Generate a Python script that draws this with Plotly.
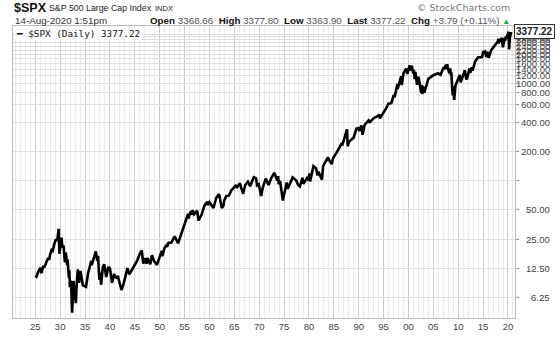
import math
import plotly.graph_objects as go

# ---------------- data ----------------
dates = [
    "1925-01-02","1925-04-01","1925-07-01","1925-11-02","1926-01-04","1926-03-30","1926-06-01","1926-08-14","1926-10-20",
    "1927-01-03","1927-05-02","1927-08-01","1927-10-20","1928-01-03","1928-05-14","1928-06-12","1928-11-20","1928-12-31",
    "1929-03-01","1929-05-27","1929-09-16","1929-11-13","1930-01-15","1930-04-10","1930-06-20","1930-09-10","1930-12-16",
    "1931-02-24","1931-06-02","1931-07-01","1931-10-05","1931-11-09","1931-12-17","1932-03-08","1932-06-01","1932-09-07",
    "1932-12-03","1933-02-27","1933-04-20","1933-07-18","1933-10-21","1934-02-05","1934-07-26","1935-03-14","1935-08-15",
    "1935-12-16","1936-04-06","1936-05-01","1936-11-10","1937-03-06","1937-06-14","1937-08-14","1937-11-19","1938-01-12",
    "1938-03-31","1938-07-25","1938-11-09","1939-04-08","1939-09-12","1940-01-03","1940-06-10","1940-11-09","1941-01-10",
    "1941-06-01","1941-08-01","1942-04-28","1942-09-15","1942-12-28","1943-07-14","1943-11-29","1944-05-15","1944-12-15",
    "1945-06-25","1945-12-10","1946-05-29","1946-09-10","1946-10-09","1947-02-08","1947-05-17","1947-07-24","1948-02-10",
    "1948-06-15","1948-11-30","1949-06-13","1949-12-30","1950-06-12","1950-07-13","1950-12-29","1951-05-03","1951-06-29",
    "1951-10-15","1952-05-01","1952-12-30","1953-01-05","1953-09-14","1954-03-15","1954-12-31","1955-09-23","1955-10-11",
    "1956-04-06","1956-05-28","1956-08-02","1956-11-29","1957-07-15","1957-10-22","1958-06-15","1958-12-31","1959-08-03",
    "1959-09-22","1960-01-05","1960-10-25","1961-05-17","1961-12-12","1962-06-26","1962-10-23","1962-12-31","1963-06-01",
    "1963-11-22","1964-06-15","1964-12-31","1965-05-14","1965-06-28","1966-02-09","1966-10-07","1967-03-15","1967-09-25",
    "1968-03-05","1968-11-29","1969-05-14","1969-07-29","1969-12-01","1970-05-26","1970-09-15","1971-04-28","1971-11-23",
    "1972-06-15","1973-01-11","1973-08-22","1973-10-26","1973-12-05","1974-03-13","1974-10-03","1975-07-15","1975-09-16",
    "1976-09-21","1977-06-15","1977-11-02","1978-03-06","1978-09-12","1978-11-14","1979-10-05","1979-11-07","1980-02-13",
    "1980-03-27","1980-11-28","1981-06-15","1981-09-25","1981-12-01","1982-08-12","1982-11-09","1983-10-10","1984-07-24",
    "1984-11-05","1985-07-17","1985-12-16","1986-07-02","1986-09-12","1987-01-30","1987-08-25","1987-10-19","1988-01-20",
    "1988-12-30","1989-08-09","1989-10-13","1989-12-29","1990-01-30","1990-07-16","1990-10-11","1991-03-15","1991-12-31",
    "1992-04-08","1992-12-18","1993-12-28","1994-02-02","1994-04-04","1995-06-15","1995-12-13","1996-07-24","1996-12-27",
    "1997-04-11","1997-10-07","1997-10-27","1998-07-17","1998-08-31","1999-01-08","1999-07-16","1999-10-15","2000-03-24",
    "2000-04-14","2000-09-01","2000-12-20","2001-01-30","2001-04-04","2001-05-21","2001-09-21","2002-01-04","2002-07-23",
    "2002-08-22","2002-10-09","2002-12-02","2003-03-11","2003-12-31","2004-12-31","2005-12-14","2006-06-13","2006-12-15",
    "2007-02-20","2007-03-05","2007-07-19","2007-08-15","2007-10-09","2008-03-10","2008-05-19","2008-07-15","2008-08-11",
    "2008-10-10","2008-11-20","2009-01-06","2009-03-09","2009-06-12","2010-01-19","2010-04-23","2010-07-02","2010-12-31",
    "2011-04-29","2011-08-08","2011-10-03","2012-04-02","2012-06-04","2012-09-14","2012-11-15","2013-05-21","2013-12-31",
    "2014-10-15","2014-12-29","2015-05-21","2015-08-25","2015-11-03","2016-02-11","2016-08-15","2017-03-01","2017-12-18",
    "2018-01-26","2018-02-08","2018-09-20","2018-12-24","2019-04-30","2019-06-03","2019-07-26","2019-08-05","2019-12-31",
    "2020-02-19","2020-03-23","2020-06-08","2020-06-11","2020-08-14",
]
closes = [
    10.6,10.3,11.2,12.5,12.7,11.2,12.1,13.3,12.8,
    13.5,15.0,16.0,15.4,17.6,20.0,18.4,22.9,24.4,
    25.0,24.0,31.9,17.7,21.7,25.9,20.5,21.5,14.4,
    18.2,13.5,15.5,10.0,12.0,8.0,9.4,4.4,9.3,
    6.9,5.5,8.0,12.2,8.9,11.8,8.4,8.1,11.2,
    13.4,15.0,13.5,17.0,18.7,15.0,16.9,9.6,11.3,
    8.5,12.8,13.8,10.2,13.0,12.5,8.9,11.0,10.2,
    10.0,10.5,7.5,8.5,9.7,12.6,10.9,12.0,13.3,
    15.0,17.4,19.2,14.3,14.1,16.0,14.0,16.0,13.8,
    17.1,14.8,13.6,16.8,19.0,16.7,20.4,21.5,20.9,
    23.0,23.0,26.6,26.7,22.7,27.0,35.9,45.6,40.8,
    48.5,44.6,49.7,45.0,49.1,38.9,45.0,55.2,60.7,
    56.0,59.9,52.3,66.6,72.6,52.3,55.0,63.1,69.4,
    70.0,80.0,84.8,90.0,84.0,94.1,73.2,90.0,97.6,
    87.7,108.4,106.0,89.5,92.0,69.3,84.0,104.8,90.2,
    107.0,120.2,100.5,111.0,92.0,99.0,62.3,95.6,82.1,
    107.8,100.0,90.0,86.9,106.9,92.5,109.0,99.9,118.0,
    98.2,140.5,133.0,112.8,123.0,102.4,141.0,172.7,147.8,
    170.0,194.0,211.0,236.0,230.0,274.0,336.8,224.8,250.0,
    277.7,351.0,333.0,353.0,322.9,368.9,295.5,375.0,417.0,
    400.0,436.0,466.0,482.0,438.0,545.0,615.9,626.0,740.0,
    737.0,983.0,876.0,1186.8,957.0,1279.0,1418.0,1247.0,1527.0,
    1356.0,1520.0,1264.0,1373.0,1103.0,1312.0,965.0,1172.0,797.0,
    962.0,776.0,936.0,800.0,1112.0,1212.0,1268.0,1223.0,1418.0,
    1459.0,1387.0,1553.0,1406.0,1565.0,1273.0,1426.0,1214.0,1300.0,
    899.0,752.0,934.0,676.5,946.0,1150.0,1217.0,1022.0,1258.0,
    1363.0,1119.0,1099.0,1419.0,1278.0,1465.0,1353.0,1669.0,1848.0,
    1862.0,2090.0,2131.0,1867.0,2109.0,1829.0,2190.0,2395.0,2690.0,
    2872.0,2581.0,2930.0,2351.0,2946.0,2744.0,3025.0,2847.0,3231.0,
    3386.0,2237.0,3232.0,3002.0,3377.22,
]

x_tick_years = list(range(1925, 2021, 5))
x_tick_labels = ["25","30","35","40","45","50","55","60","65","70",
                 "75","80","85","90","95","00","05","10","15","20"]

y_grid_vals = [6.25, 12.5, 25, 50, 100, 200, 400, 600, 800, 1000, 1200, 1400,
               1600, 1800, 2000, 2200, 2400, 2600, 2800, 3000, 3200]
y_label_vals = [6.25, 12.5, 25, 50, 200, 400, 600, 800, 1000, 1200, 1400,
                1600, 1800, 2000, 2200, 2400, 2600, 2800, 3000, 3200]

symbol = "$SPX"
index_name = "S&P 500 Large Cap Index"
exchange = "INDX"
timestamp = "14-Aug-2020 1:51pm"
q_open, q_high, q_low, q_last = "3368.66", "3377.80", "3363.90", "3377.22"
q_chg, q_chg_pct = "+3.79", "(+0.11%)"
last_value = 3377.22

# ---------------- figure ----------------
FONT = "Liberation Sans, Arial, sans-serif"
L, R, T, B = 12, 45, 26, 14

fig = go.Figure()
fig.add_trace(go.Scatter(x=dates, y=closes, mode="lines",
                         line=dict(color="#000000", width=2.6), hoverinfo="skip",
                         showlegend=False))

fig.update_layout(
    width=560, height=344,
    margin=dict(l=L, r=R, t=T, b=B, pad=0),
    paper_bgcolor="white", plot_bgcolor="white",
    font=dict(family=FONT, size=10, color="#333"),
    showlegend=False,
)

fig.update_xaxes(
    type="date",
    range=["1920-07-12", "2021-05-30"],
    tickmode="array",
    tickvals=[f"{y}-01-01" for y in x_tick_years],
    ticktext=x_tick_labels,
    tickfont=dict(family=FONT, size=9.5, color="#444"),
    ticks="",
    showgrid=True, gridcolor="#cdcdcd", gridwidth=1,
    minor=dict(tick0="1921-01-01", dtick="M12", showgrid=True, gridcolor="#ebebeb", gridwidth=1),
    showline=True, linecolor="#bdbdbd", mirror=True, zeroline=False,
)

fig.update_yaxes(
    type="log",
    range=[math.log10(3.87), math.log10(3883)],
    side="right",
    tickmode="array",
    tickvals=y_grid_vals,
    ticktext=[""] * len(y_grid_vals),
    showticklabels=False,
    ticks="outside", ticklen=3, tickcolor="#999",
    showgrid=True, gridcolor="#dedede", gridwidth=1,
    showline=True, linecolor="#bdbdbd", mirror=True, zeroline=False,
)

ann = []
# right-aligned y labels (the reference crowds them together near the top)
for v in y_label_vals:
    ann.append(dict(xref="paper", yref="y", x=1, y=math.log10(v), xanchor="right",
                    yanchor="middle", xshift=37, showarrow=False,
                    text=f"{v:.2f}", font=dict(family=FONT, size=9.5, color="#444")))
# last value box
ann.append(dict(xref="paper", yref="y", x=1, y=math.log10(last_value), xanchor="left",
                yanchor="middle", xshift=-1, showarrow=False,
                text=f"<b>{last_value:.2f}</b>", font=dict(family=FONT, size=10, color="#222"),
                bgcolor="white", bordercolor="#333", borderwidth=1, borderpad=1))

def hdr(text, px, py, size, anchor="left", color="#222", family=FONT):
    if anchor == "left":
        return dict(xref="paper", yref="paper", x=0, y=1, xanchor="left", yanchor="middle",
                    xshift=px - L, yshift=T - py, showarrow=False, text=text,
                    font=dict(family=family, size=size, color=color))
    return dict(xref="paper", yref="paper", x=1, y=1, xanchor="right", yanchor="middle",
                xshift=px - (560 - R), yshift=T - py, showarrow=False, text=text,
                font=dict(family=family, size=size, color=color))

ann.append(hdr(f"<b>{symbol}</b>", 11, 7.5, 12.5, color="#111"))
ann.append(hdr(index_name, 46, 8, 8.8, color="#222"))
ann.append(hdr(exchange, 152, 8.5, 7.5, color="#222"))
ann.append(hdr(timestamp, 12, 20, 9.8, color="#333"))
g = "#555"
quote = (f"<b>Open</b> <span style='color:{g}'>{q_open}</span>  "
         f"<b>High</b> <span style='color:{g}'>{q_high}</span>  "
         f"<b>Low</b> <span style='color:{g}'>{q_low}</span>  "
         f"<b>Last</b> <span style='color:{g}'>{q_last}</span>  "
         f"<b>Chg</b> <span style='color:{g}'>{q_chg} {q_chg_pct}</span> "
         f"<span style='color:#2e9e3a;font-size:8px'>▲</span>")
ann.append(hdr(quote, 512, 20, 9.8, anchor="right", color="#111"))
ann.append(hdr("© StockCharts.com", 512, 7.5, 9.5, anchor="right", color="#777",
               family="DejaVu Sans, sans-serif"))
# legend
ann.append(dict(xref="paper", yref="paper", x=0, y=1, xanchor="left", yanchor="middle",
                xshift=1, yshift=-7, showarrow=False,
                text=f"<b>━</b> {symbol} (Daily) {q_last}",
                font=dict(family="DejaVu Sans Mono, monospace", size=9.3, color="#111"),
                bgcolor="rgba(255,255,255,0.85)"))

fig.update_layout(annotations=ann)
fig.write_html("out.html")
